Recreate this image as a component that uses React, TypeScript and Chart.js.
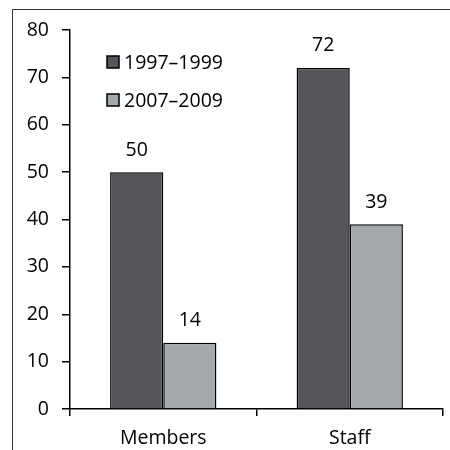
import React, { useEffect, useRef } from "react";
import { Chart, registerables } from "chart.js";

Chart.register(...registerables);

const categories = ["Members", "Staff"];
const seriesLabels = ["1997–1999", "2007–2009"];
const series1997 = [50, 72];
const series2007 = [14, 39];
const yTicks = [0, 10, 20, 30, 40, 50, 60, 70, 80];

const DARK = "#55565a";
const LIGHT = "#a6a9ac";
const FONT = "'Open Sans', sans-serif";
const FONT_SIZE = 19.5;

const framePlugin = {
  id: "frame",
  afterDraw(chart: any) {
    const ctx = chart.ctx;
    ctx.save();
    ctx.strokeStyle = "#333333";
    ctx.lineWidth = 1;
    ctx.beginPath();
    ctx.moveTo(12.5, 450);
    ctx.lineTo(12.5, 9.5);
    ctx.lineTo(450, 9.5);
    ctx.stroke();
    ctx.restore();
  },
};

const valueLabels = {
  id: "valueLabels",
  afterDatasetsDraw(chart: any) {
    const ctx = chart.ctx;
    ctx.save();
    ctx.fillStyle = "#000";
    ctx.font = `${FONT_SIZE}px ${FONT}`;
    ctx.textAlign = "center";
    ctx.textBaseline = "middle";
    chart.data.datasets.forEach((ds: any, i: number) => {
      const meta = chart.getDatasetMeta(i);
      meta.data.forEach((el: any, j: number) => {
        ctx.fillText(String(ds.data[j]), el.x, el.y - 22);
      });
    });
    ctx.restore();
  },
};

const innerLegend = {
  id: "innerLegend",
  afterDraw(chart: any) {
    const ctx = chart.ctx;
    const area = chart.chartArea;
    ctx.save();
    ctx.font = `${FONT_SIZE}px ${FONT}`;
    ctx.textBaseline = "middle";
    ctx.textAlign = "left";
    chart.data.datasets.forEach((ds: any, i: number) => {
      const x = area.left + 37;
      const cy = area.top + 32 + i * 38;
      ctx.fillStyle = ds.backgroundColor;
      ctx.fillRect(x, cy - 6, 12, 12);
      ctx.strokeStyle = "#000";
      ctx.lineWidth = 1.5;
      ctx.strokeRect(x, cy - 6, 12, 12);
      ctx.fillStyle = "#000";
      ctx.fillText(ds.label, x + 17, cy + 1);
    });
    ctx.restore();
  },
};

export default function App() {
  const ref = useRef<HTMLCanvasElement | null>(null);
  useEffect(() => {
    if (!ref.current) return;
    const chart = new Chart(ref.current, {
      type: "bar",
      data: {
        labels: categories,
        datasets: [
          {
            label: seriesLabels[0],
            data: series1997,
            backgroundColor: DARK,
            borderColor: "#000",
            borderWidth: 1.5,
          },
          {
            label: seriesLabels[1],
            data: series2007,
            backgroundColor: LIGHT,
            borderColor: "#000",
            borderWidth: 1.5,
          },
        ],
      },
      options: {
        responsive: false,
        animation: false,
        layout: { padding: { top: 30, right: 7, left: 0, bottom: 0 } },
        plugins: { legend: { display: false }, tooltip: { enabled: false } },
        datasets: { bar: { categoryPercentage: 0.57, barPercentage: 1 } },
        scales: {
          x: {
            grid: {
              offset: true,
              drawOnChartArea: false,
              drawTicks: true,
              tickLength: 7,
              color: "#000",
              lineWidth: 1.5,
            },
            border: { color: "#000", width: 1.5 },
            ticks: {
              color: "#000",
              font: { family: FONT, size: FONT_SIZE },
              padding: 11,
            },
            afterFit(scale: any) {
              scale.height = 41;
            },
          },
          y: {
            min: 0,
            max: 80,
            afterBuildTicks(scale: any) {
              scale.ticks = yTicks.map((v) => ({ value: v }));
            },
            grid: {
              drawOnChartArea: false,
              drawTicks: true,
              tickLength: 8,
              color: "#000",
              lineWidth: 1.5,
            },
            border: { color: "#000", width: 1.5 },
            ticks: {
              color: "#000",
              font: { family: FONT, size: FONT_SIZE },
              padding: 13,
            },
            afterFit(scale: any) {
              scale.width = 70;
            },
          },
        },
      },
      plugins: [valueLabels, innerLegend, framePlugin],
    });
    return () => chart.destroy();
  }, []);
  return (
    <div style={{ position: "absolute", left: 0, top: 0, width: 450, height: 450, background: "#fff" }}>
      <canvas ref={ref} width={450} height={450} />
    </div>
  );
}
